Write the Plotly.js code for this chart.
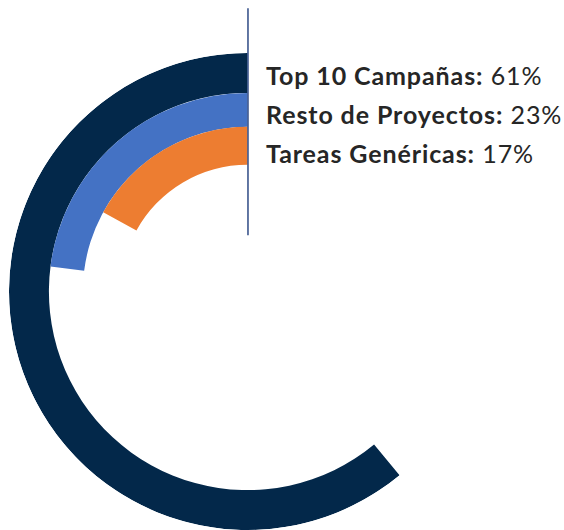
<!DOCTYPE html>
<html>
<head>
<meta charset="utf-8">
<script src="https://cdn.plot.ly/plotly-3.0.1.min.js"></script>
<style>html,body{margin:0;padding:0;background:#fff;}#chart{width:564px;height:530px;}
.annotation-text{letter-spacing:0.9px;}</style>
</head>
<body>
<div id="chart"></div>
<script>
const categories = ["Top 10 Campañas", "Resto de Proyectos", "Tareas Genéricas"];
const values = [61, 23, 17];
const colors = ["#03284a", "#4472c4", "#ed7d31"];
// ring geometry (styling): inner radius and thickness for each ring
const ringBase = [199, 165, 127];
const ringThick = [40, 34, 38];

const traces = categories.map((c, i) => ({
  type: "barpolar",
  name: c,
  r: [ringThick[i]],
  base: [ringBase[i]],
  theta: [values[i] * 3.6 / 2],
  width: [values[i] * 3.6],
  marker: {color: colors[i], line: {width: 0}},
  hoverinfo: "skip",
  showlegend: false
}));

const labelY = [0.954, 0.873, 0.790];
const annotations = categories.map((c, i) => ({
  xref: "paper", yref: "paper",
  x: 0.535, y: labelY[i],
  xanchor: "left", yanchor: "middle",
  showarrow: false,
  text: "<b>" + c + ":</b> " + values[i] + "%",
  font: {family: "Lato, 'Open Sans', sans-serif", size: 25, color: "#262626"}
}));

const layout = {
  width: 564, height: 530,
  margin: {l: 9, r: 78, t: 53, b: 0},
  paper_bgcolor: "#ffffff",
  showlegend: false,
  polar: {
    domain: {x: [0, 1], y: [0, 1]},
    bgcolor: "rgba(0,0,0,0)",
    bargap: 0,
    radialaxis: {range: [0, 239], visible: false, showgrid: false, showline: false, showticklabels: false, ticks: ""},
    angularaxis: {direction: "counterclockwise", rotation: 90, visible: false, showgrid: false, showline: false, showticklabels: false, ticks: ""}
  },
  shapes: [{
    type: "line", xref: "paper", yref: "paper",
    x0: 0.501, x1: 0.501, y0: 1.094, y1: 0.618,
    line: {color: "#2e4a85", width: 1.5}
  }],
  annotations: annotations
};

Plotly.newPlot("chart", traces, layout, {displayModeBar: false, staticPlot: true});
</script>
</body>
</html>
